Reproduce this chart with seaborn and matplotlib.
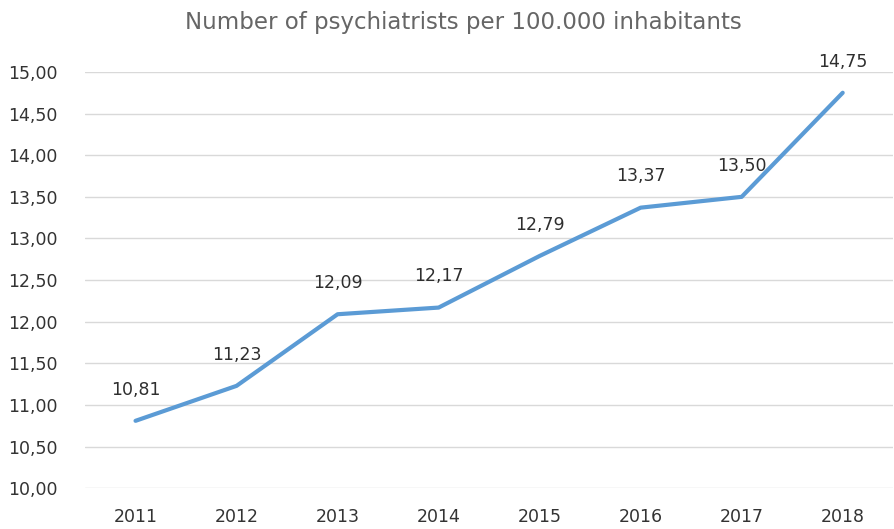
import matplotlib
matplotlib.use("Agg")
import matplotlib.pyplot as plt
import seaborn as sns
import pandas as pd
from matplotlib.ticker import FuncFormatter, MultipleLocator

years = ["2011", "2012", "2013", "2014", "2015", "2016", "2017", "2018"]
psychiatrists = [10.81, 11.23, 12.09, 12.17, 12.79, 13.37, 13.50, 14.75]

df = pd.DataFrame({"year": years, "value": psychiatrists})

sns.set_theme(style="white")
plt.rcParams["font.family"] = ["DejaVu Sans"]


def comma(v, _=None):
    return f"{v:.2f}".replace(".", ",")


fig = plt.figure(figsize=(8.95, 5.29), dpi=100)
ax = fig.add_axes([0.095, 0.077, 0.903, 0.787])

sns.lineplot(data=df, x="year", y="value", ax=ax, color="#5B9BD5",
             linewidth=3.0, sort=False, zorder=3)

ax.set_xlim(-0.5, len(years) - 0.5)
ax.set_ylim(10, 15)
ax.yaxis.set_major_locator(MultipleLocator(0.5))
ax.yaxis.set_major_formatter(FuncFormatter(comma))
ax.grid(axis="y", color="#D9D9D9", linewidth=1.0)
ax.set_axisbelow(True)
for s in ax.spines.values():
    s.set_visible(False)
ax.set_xlabel("")
ax.set_ylabel("")
ax.tick_params(axis="both", length=0, labelsize=12.5, colors="#333333")
ax.tick_params(axis="x", pad=14)
ax.tick_params(axis="y", pad=20)

for i, v in enumerate(psychiatrists):
    ax.annotate(comma(v), (i, v), xytext=(0, 16),
                textcoords="offset points", ha="center", va="bottom",
                fontsize=12.5, color="#2E2E2E")

fig.text(0.518, 0.957, "Number of psychiatrists per 100.000 inhabitants",
         ha="center", va="center", fontsize=16.5, color="#666666")

fig.savefig("out.png", dpi=100)
